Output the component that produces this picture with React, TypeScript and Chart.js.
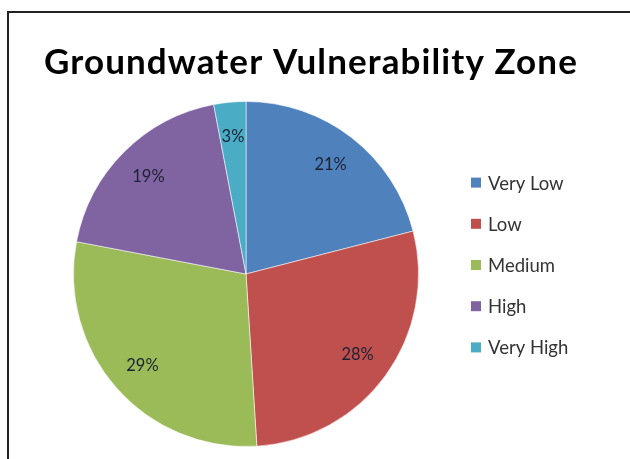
import React, { useEffect, useRef } from "react";
import { Chart, registerables } from "chart.js";

Chart.register(...registerables);

const TITLE = "Groundwater Vulnerability Zone";
const categories = ["Very Low", "Low", "Medium", "High", "Very High"];
const percentValues = [21, 28, 29, 19, 3];
const sliceColors = ["#4F81BD", "#C0504D", "#9BBB59", "#8064A2", "#4BACC6"];

const FONT = "Lato, 'Open Sans', sans-serif";

const titlePlugin = {
  id: "excelTitle",
  afterDraw(chart: any) {
    const ctx = chart.ctx;
    ctx.save();
    ctx.font = `bold 35px ${FONT}`;
    (ctx as any).letterSpacing = "1.1px";
    ctx.fillStyle = "#000000";
    ctx.textAlign = "center";
    ctx.textBaseline = "alphabetic";
    ctx.fillText(TITLE, 311, 74);
    ctx.restore();
  },
};

const legendPlugin = {
  id: "excelLegend",
  afterDraw(chart: any) {
    const ctx = chart.ctx;
    const ds = chart.data.datasets[0];
    const x0 = chart.chartArea.right - 1;
    const yMid = (chart.chartArea.top + chart.chartArea.bottom) / 2 - 9;
    const step = 41.2;
    const n = chart.data.labels.length;
    ctx.save();
    ctx.font = `18.5px ${FONT}`;
    ctx.textBaseline = "middle";
    ctx.textAlign = "left";
    chart.data.labels.forEach((lab: string, i: number) => {
      const y = yMid + (i - (n - 1) / 2) * step;
      ctx.fillStyle = ds.backgroundColor[i];
      ctx.fillRect(x0, y - 5, 10, 10);
      ctx.fillStyle = "#333333";
      ctx.fillText(lab, x0 + 17, y + 1);
    });
    ctx.restore();
  },
};

const labelPlugin = {
  id: "sliceLabels",
  afterDatasetsDraw(chart: any) {
    const ctx = chart.ctx;
    const meta = chart.getDatasetMeta(0);
    const values = chart.data.datasets[0].data;
    ctx.save();
    ctx.font = `16.5px ${FONT}`;
    ctx.fillStyle = "#1d2233";
    ctx.textAlign = "center";
    ctx.textBaseline = "middle";
    meta.data.forEach((arc: any, i: number) => {
      const p = arc.getProps(["x", "y", "startAngle", "endAngle", "outerRadius"], true);
      const mid = (p.startAngle + p.endAngle) / 2;
      const r = p.outerRadius * 0.8;
      ctx.fillText(`${values[i]}%`, p.x + Math.cos(mid) * r, p.y + Math.sin(mid) * r);
    });
    ctx.restore();
  },
};

export default function App() {
  const canvasRef = useRef<HTMLCanvasElement>(null);

  useEffect(() => {
    document.body.style.margin = "0";
    const chart = new Chart(canvasRef.current as HTMLCanvasElement, {
      type: "pie",
      data: {
        labels: categories,
        datasets: [
          {
            data: percentValues,
            backgroundColor: sliceColors,
            borderColor: "rgba(255,255,255,0.55)",
            borderWidth: 1,
            hoverOffset: 0,
          },
        ],
      },
      options: {
        animation: false,
        responsive: false,
        maintainAspectRatio: false,
        layout: { padding: { left: 20, right: 158, top: 101, bottom: 12 } },
        plugins: {
          legend: { display: false },
          title: { display: false },
          tooltip: { enabled: false },
        },
      },
      plugins: [titlePlugin, legendPlugin, labelPlugin],
    });
    return () => chart.destroy();
  }, []);

  return (
    <div style={{ position: "fixed", left: 0, top: 0, width: 630, height: 459, background: "#fff", overflow: "hidden" }}>
      <div
        style={{
          position: "absolute",
          left: 7,
          top: 11,
          width: 700,
          height: 600,
          borderLeft: "2px solid #222",
          borderTop: "2px solid #222",
          boxSizing: "border-box",
        }}
      />
      <canvas ref={canvasRef} width={630} height={459} style={{ position: "absolute", left: 0, top: 0 }} />
    </div>
  );
}
